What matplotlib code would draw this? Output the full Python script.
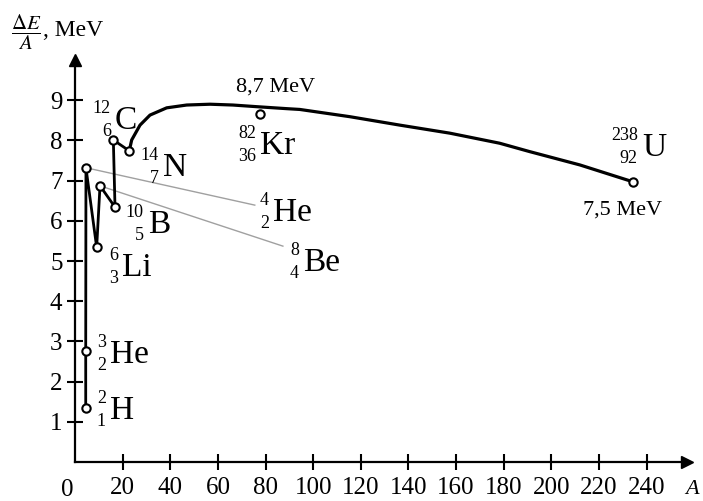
import matplotlib.pyplot as plt

plt.rcParams['font.family'] = ['Liberation Serif', 'DejaVu Serif']
plt.rcParams['mathtext.fontset'] = 'stix'

# nuclides as marked on the picture: position on the A axis, dE/A in MeV
names = ['H', 'He', 'He', 'Li', 'Be', 'B', 'C', 'N', 'Kr', 'U']
mass_numbers = ['2', '3', '4', '6', '8', '10', '12', '14', '82', '238']
charges = ['1', '2', '2', '3', '4', '5', '6', '7', '36', '92']
point_a = [4.5, 4.5, 4.6, 9.1, 10.5, 16.8, 16.1, 22.8, 77.6, 234.3]
point_e = [1.34, 2.76, 7.32, 5.34, 6.87, 6.34, 8.01, 7.74, 8.66, 6.97]

# smooth part of the curve, from N-14 to U-238
curve_a = [22.8, 23.8, 27.3, 31.5, 38.5, 46.9, 56.7, 66.3, 76.0, 88.8, 94.4,
           115.4, 136.4, 157.4, 178.3, 191.0, 212.0, 234.3]
curve_e = [7.74, 8.01, 8.38, 8.63, 8.81, 8.88, 8.90, 8.88, 8.84, 8.79, 8.77,
           8.59, 8.38, 8.18, 7.93, 7.72, 7.39, 6.97]

x_ticks = [20, 40, 60, 80, 100, 120, 140, 160, 180, 200, 220, 240]
y_ticks = [1, 2, 3, 4, 5, 6, 7, 8, 9]

# where each nuclide label sits (left / middle of the element symbol)
label_xy = [(14.7, 1.34), (14.7, 2.74), (83.1, 6.27), (19.7, 4.90), (95.7, 5.02),
            (30.6, 5.97), (16.8, 8.56), (36.9, 7.39), (77.6, 7.94), (238.0, 7.89)]
# gray leader lines for He-4 and Be-8
leader_idx = [2, 4]
leader_end = [(75.5, 6.39), (87.3, 5.37)]

fig = plt.figure(figsize=(7.03, 5.01), dpi=100)
ax = fig.add_axes([75 / 703, 39 / 501, 612 / 703, 402 / 501])
ax.set_xlim(0, 257)
ax.set_ylim(0, 10.0)

for s in ['top', 'right']:
    ax.spines[s].set_visible(False)
for s in ['left', 'bottom']:
    ax.spines[s].set_linewidth(1.6)
ax.plot(1, 0, '>k', ms=9, transform=ax.get_yaxis_transform(), clip_on=False)
ax.plot(0, 1, '^k', ms=9, transform=ax.get_xaxis_transform(), clip_on=False)

ax.set_xticks(x_ticks)
ax.set_yticks(y_ticks)
ax.tick_params(direction='inout', length=12, width=1.5, labelsize=18)
ax.tick_params(axis='x', pad=5)
ax.tick_params(axis='y', pad=3)
# origin label sits a little left of the axis
ax.annotate('0', (0, 0), xytext=(-8, -28), textcoords='offset pixels',
            fontsize=18, ha='center', va='center', annotation_clip=False)

# leader lines first so they sit under the markers
for i, (lx, ly) in zip(leader_idx, leader_end):
    ax.plot([point_a[i], lx], [point_e[i], ly], color='#a0a0a0', lw=1.0)

# light nuclei zig-zag, then the smooth curve
ax.plot(point_a[:8], point_e[:8], color='black', lw=2.0)
ax.plot(curve_a, curve_e, color='black', lw=2.3)
ax.plot(point_a, point_e, 'o', ms=6, mfc='white', mec='black', mew=1.5)

for name, m, z, (lx, ly) in zip(names, mass_numbers, charges, label_xy):
    ax.annotate(name, (lx, ly), xytext=(0, -11), textcoords='offset pixels',
                fontsize=24, ha='left', va='baseline')
    ax.annotate(m, (lx, ly), xytext=(-4, 5), textcoords='offset pixels',
                fontsize=13, ha='right', va='baseline')
    ax.annotate(z, (lx, ly), xytext=(-4, -18), textcoords='offset pixels',
                fontsize=13, ha='right', va='baseline')

ax.text(84.3, 9.33, '8,7 MeV', fontsize=16, ha='center', va='center')
ax.text(230, 6.27, '7,5 MeV', fontsize=16, ha='center', va='center')

fig.text(26 / 703, 1 - 32 / 501, r'$\dfrac{\Delta E}{A}$', fontsize=15,
         ha='center', va='center')
fig.text(43 / 703, 1 - 36 / 501, ', MeV', fontsize=17, ha='left', va='baseline')
fig.text(692 / 703, 1 - 490 / 501, 'A', fontsize=16, style='italic',
         ha='center', va='center')

fig.savefig('out.png', dpi=100)
